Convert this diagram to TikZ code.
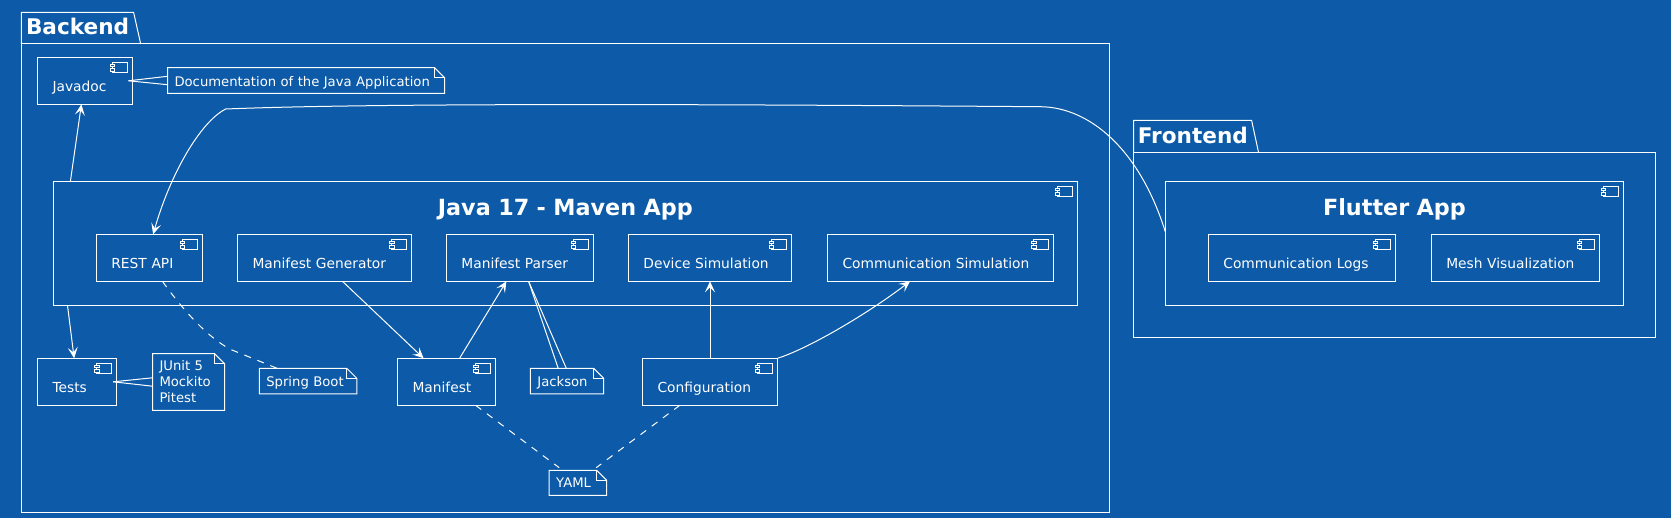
\documentclass[tikz,border=0pt]{standalone}
\usepackage{fontspec}
\setmainfont{DejaVu Sans}
\usetikzlibrary{arrows.meta}
\definecolor{blueprint}{HTML}{0C5AA8}
\tikzset{
  comp/.style={draw=white,anchor=north west,outer sep=0pt,inner xsep=15pt,inner ysep=0pt,
    text width=#1pt-30pt,text height=34.3pt,text depth=12.7pt,text=white,font=\fontsize{13.8}{16}\selectfont},
  app/.style={comp=#1,align=center,text height=34.7pt,text depth=89.3pt,font=\fontsize{22.3}{26}\selectfont\bfseries},
  notebox/.style={anchor=north west,outer sep=0pt,inner xsep=7pt,inner ysep=0pt,
    text width=#1pt-14pt,text height=18.7pt,text depth=6.9pt,text=white,font=\fontsize{13.2}{16}\selectfont},
  pkg/.style={draw=white,anchor=north west,outer sep=0pt,minimum width=#1},
  pkgtitle/.style={anchor=base west,inner sep=0pt,text=white,font=\fontsize{21.6}{24}\selectfont\bfseries},
  arr/.style={white,-{Stealth[length=11pt,width=10pt,inset=5pt]}},
  link/.style={white},
  dashlink/.style={white,dash pattern=on 7pt off 7pt}
}
\begin{document}
\begin{tikzpicture}[x=1pt,y=-1pt,line width=1pt]
\fill[blueprint] (0,0) rectangle (1671,518);
\useasboundingbox (0,0) rectangle (1671,518);

% packages
\node[pkg=1088.3pt,minimum height=468.3pt] (backend) at (21.4,44) {};
\node[pkg=522pt,minimum height=185pt] (frontend) at (1133.5,152.3) {};
\node[pkgtitle] (backendtitle) at (25.5,35) {Backend};
\node[pkgtitle] (frontendtitle) at (1137.3,143.3) {Frontend};
\draw[white] (backend.north west) -- ++(0,-31.7) -- ++(112.2,0) -- ++(7.1,31.7);
\draw[white] (frontend.north west) -- ++(0,-32) -- ++(118.1,0) -- ++(6.9,32);

% containers
\node[app=1024.3] (java) at (53.2,181.3) {Java 17 - Maven App};
\node[app=457.8] (flutter) at (1165.6,181.3) {Flutter App};

% components
\node[comp=95] (javadoc) at (37.5,57.3) {Javadoc};
\node[comp=106.1] (rest) at (96.4,234.3) {REST API};
\node[comp=174.3] (generator) at (237.5,234.3) {Manifest Generator};
\node[comp=147.2] (parser) at (446.4,234.3) {Manifest Parser};
\node[comp=163.2] (device) at (628.4,234.3) {Device Simulation};
\node[comp=226.4] (commsim) at (827.5,234.3) {Communication Simulation};
\node[comp=79.3] (tests) at (37.5,358.3) {Tests};
\node[comp=98.2] (manifest) at (397.5,358.3) {Manifest};
\node[comp=135] (config) at (642.5,358.3) {Configuration};
\node[comp=187] (logs) at (1208.4,234.3) {Communication Logs};
\node[comp=168.2] (mesh) at (1431.3,234.3) {Mesh Visualization};

% notes
\node[notebox=277.1] (docnote) at (167.5,67.7) {Documentation of the Java Application};
\node[notebox=72.1,text height=17.3pt,text depth=39.3pt,align=left] (testnote) at (152.5,353.7) {JUnit 5\\Mockito\\Pitest};
\node[notebox=97.5] (springnote) at (259.3,368.3) {Spring Boot};
\node[notebox=73.2] (jacksonnote) at (530.4,368.3) {Jackson};
\node[notebox=57.4,text height=17.4pt,text depth=7.6pt] (yamlnote) at (549.2,470.3) {YAML};

\foreach \comp in {java,flutter,javadoc,rest,generator,parser,device,commsim,tests,manifest,config,logs,mesh} {
  \draw[white] ([xshift=-20pt,yshift=-5pt]\comp.north east) rectangle ++(15,10.4);
  \draw[white,fill=blueprint] ([xshift=-22pt,yshift=-7pt]\comp.north east) rectangle ++(4.3,2.7);
  \draw[white,fill=blueprint] ([xshift=-22pt,yshift=-11.5pt]\comp.north east) rectangle ++(4.3,2.7);
}

\foreach \note in {docnote,testnote,springnote,jacksonnote,yamlnote} {
  \draw[white] (\note.north west) -- ([xshift=-10pt]\note.north east) -- ([yshift=-10pt]\note.north east)
    -- (\note.south east) -- (\note.south west) -- cycle;
  \draw[white] ([xshift=-10pt]\note.north east) |- ([yshift=-10pt]\note.north east);
}

% connectors
\draw[arr] ([xshift=17.2pt]java.north west) -- ([xshift=-3.6pt]javadoc.south);
\draw[arr] ([xshift=14.3pt]java.south west) -- ([xshift=-3pt]tests.north);
\draw[arr] ([yshift=-51.4pt]flutter.north west) .. controls (1140,150) and (1090,107) .. (1040,106.7)
  .. controls (800,105) and (400,102) .. (225.7,109)
  .. controls (200,122) and (170,175) .. ([xshift=3.7pt]rest.north);
\draw[arr] ([xshift=17.8pt]generator.south) -- ([xshift=-23pt]manifest.north);
\draw[arr] ([xshift=13pt]manifest.north) -- ([xshift=-13.6pt]parser.south);
\draw[arr] (config.north -| device.south) -- (device.south);
\draw[arr] (config.north east) .. controls (810,348) and (870,312) .. ([xshift=-30.7pt]commsim.south);

\draw[link] ([xshift=-4pt]javadoc.east) -- ([yshift=4.2pt]docnote.west);
\draw[link] ([xshift=-4pt]javadoc.east) -- ([yshift=-4.2pt]docnote.west);
\draw[link] ([xshift=-3.6pt]tests.east) -- ([yshift=4.2pt]testnote.west);
\draw[link] ([xshift=-3.6pt]tests.east) -- ([yshift=-4.2pt]testnote.west);
\draw[link] ([xshift=8.6pt]parser.south) -- ([xshift=-8.8pt]jacksonnote.north);
\draw[link] ([xshift=8.6pt]parser.south) -- ([xshift=-0.7pt]jacksonnote.north);

\draw[dashlink] ([xshift=13pt]rest.south) .. controls (190,320) and (215,342) .. (232,350) -- ([xshift=-31pt]springnote.north);
\draw[dashlink] ([xshift=29pt]manifest.south) -- ([xshift=-18.7pt,yshift=2.6pt]yamlnote.north);
\draw[dashlink] ([xshift=-30.2pt]config.south) -- ([xshift=18.3pt,yshift=2.6pt]yamlnote.north);
\end{tikzpicture}
\end{document}
